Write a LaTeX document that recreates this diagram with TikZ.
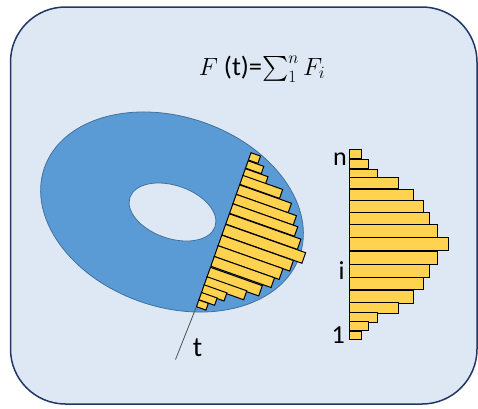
\documentclass[tikz,border=0pt]{standalone}
\usepackage{amsmath}
\usepackage{fontspec}
\setmainfont{Carlito}
\definecolor{bgcol}{HTML}{DEE8F4}
\definecolor{framecol}{HTML}{203864}
\definecolor{ringcol}{HTML}{5B9BD5}
\definecolor{ringedge}{HTML}{41719C}
\definecolor{barcol}{HTML}{FFD34F}
\definecolor{cutcol}{HTML}{505050}
\tikzset{
  histbar/.style={fill=barcol,draw=black,line width=1pt},
  lbl/.style={inner sep=0pt,font=\fontsize{26}{30}\selectfont},
  cutline/.style={draw=cutcol,line width=0.8pt},
}
\newcommand{\histbars}{%
  \foreach \ya/\yb/\w in {0/9/11.7, 10/19/19.3, 19.7/29/28, 28/39/49,
      39.7/51.4/64, 51.4/63/74.3, 63/74.7/80, 75.4/88/88.3, 88.4/101.4/98.7,
      101.7/114.7/88.3, 114.7/128/80, 128/140/74.3, 141.4/154/64, 153/164/49,
      163/173/28, 172.4/181.4/19.3, 181.7/190/11.7}{
    \draw[histbar] (0,\ya) rectangle (\w,\yb);
  }}
\begin{document}
\begin{tikzpicture}[x=1pt,y=-1pt]
\useasboundingbox (0,0) rectangle (478,408);
\draw[draw=framecol,line width=1.5pt,fill=bgcol,rounded corners=55pt] (10.5,7) rectangle (477,404);
% ring
\begin{scope}[shift={(172,212)},rotate=-19]
  \filldraw[fill=ringcol,draw=ringedge,line width=0.8pt] (0,0) ellipse [x radius=135,y radius=95];
\end{scope}
\begin{scope}[shift={(172.5,212)},rotate=-19]
  \filldraw[fill=bgcol,draw=ringedge,line width=0.8pt] (0,0) ellipse [x radius=45,y radius=26.5];
\end{scope}
% cut line
\coordinate (tend) at (175.5,359.5);
\coordinate (tbase) at (196.4,306.8);
\draw[cutline] (tend) -- (tbase);
% histogram on the cut
\begin{scope}[shift={(251,152.7)},rotate=-19.5,scale=0.86]
  \histbars
\end{scope}
% right histogram
\begin{scope}[shift={(349.3,149.3)}]
  \histbars
\end{scope}
% labels
\node[lbl] (ln) at (340,159.5) {n};
\node[lbl] (li) at (341.5,270.5) {i};
\node[lbl] (l1) at (338.3,335) {1};
\node[lbl,font=\fontsize{28}{32}\selectfont] (lt) at (197.5,347.5) {t};
\node[anchor=base,inner sep=0pt,font=\fontsize{26.5}{32}\selectfont] (formula) at (262,75) {$F$ (t)=$\textstyle\sum_1^n F_i$};
\end{tikzpicture}
\end{document}
